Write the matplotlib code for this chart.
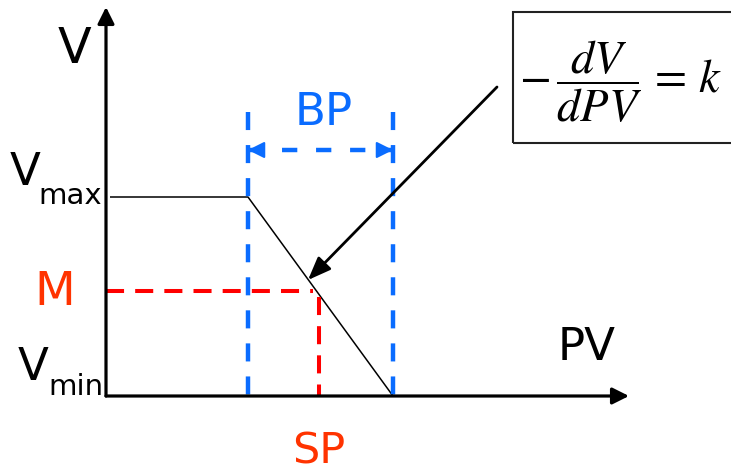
import matplotlib
matplotlib.use("Agg")
import matplotlib.pyplot as plt
from matplotlib.patches import Rectangle

plt.rcParams['font.family'] = ['DejaVu Sans']
plt.rcParams['mathtext.fontset'] = 'stix'
plt.rcParams['lines.scale_dashes'] = False

# ---- data (units: pixels from the axis origin) ----
pv_curve = [4, 142, 287]        # PV breakpoints of the controller characteristic
v_curve = [199, 199, 0]         # V at those breakpoints (Vmax ... Vmin)
v_max = 199
v_min = 0
bp_edges = [142, 287]           # proportional band limits
sp = 212.5                      # set point
m_level = 105                   # manual reset / bias level
x_axis_end = 523
y_axis_end = 389
arrow_from = (391, 309)
arrow_to = (202, 116)

BLUE = '#0A6CFF'
RED = '#FF0000'
ORANGE = '#FF3300'

fig = plt.figure(figsize=(7.31, 4.73), dpi=100)
ax = fig.add_axes([0, 0, 1, 1])
ax.set_xlim(-106, 625)
ax.set_ylim(-77, 396)
ax.axis('off')

# axes with arrow heads
ax.annotate('', xy=(0, y_axis_end), xytext=(0, v_min),
            arrowprops=dict(arrowstyle='-|>,head_length=1.0,head_width=0.5',
                            lw=2.3, color='black', shrinkA=0, shrinkB=0))
ax.annotate('', xy=(x_axis_end, v_min), xytext=(0, v_min),
            arrowprops=dict(arrowstyle='-|>,head_length=1.0,head_width=0.5',
                            lw=2.3, color='black', shrinkA=0, shrinkB=0))

# characteristic curve
ax.plot(pv_curve, v_curve, color='black', lw=1.1, solid_capstyle='butt')

# proportional band lines
for xb in bp_edges:
    ax.plot([xb, xb], [284, v_min], color=BLUE, lw=3.2,
            dashes=(13, 10.8), dash_capstyle='butt')

# BP double arrow
ax.plot([bp_edges[0], bp_edges[1]], [246, 246], color=BLUE, lw=3.2,
        dashes=(11, 13.5), dash_capstyle='butt')
for tip, tail in [(bp_edges[0], bp_edges[0] + 12), (bp_edges[1], bp_edges[1] - 12)]:
    ax.annotate('', xy=(tip, 246), xytext=(tail, 246),
                arrowprops=dict(arrowstyle='-|>,head_length=1.0,head_width=0.5',
                                lw=1.5, color=BLUE, shrinkA=0, shrinkB=0))

# M and SP dashed lines
ax.plot([0, sp - 6], [m_level, m_level], color=RED, lw=2.9,
        dashes=(13, 8), dash_capstyle='butt')
ax.plot([sp, sp], [m_level - 6, v_min], color=RED, lw=2.9,
        dashes=(13, 8), dash_capstyle='butt')

# slope arrow
ax.annotate('', xy=arrow_to, xytext=arrow_from,
            arrowprops=dict(arrowstyle='-|>,head_length=1.4,head_width=0.55',
                            lw=2.0, color='black', shrinkA=0, shrinkB=0))

# formula box (right side runs past the picture edge)
ax.add_patch(Rectangle((407, 253), 260, 131, fill=False, lw=1.5,
                       edgecolor='#222222', clip_on=True))
ax.text(515, 314, r'$-\,\dfrac{dV}{dPV}\,=\,k$', fontsize=33.5, ha='center',
        va='center', color='black')

# labels
ax.text(-48, 333, 'V', fontsize=35.5, ha='left', va='baseline')
ax.text(-96, 211, 'V', fontsize=32.5, ha='left', va='baseline')
ax.text(-68, 192, 'max', fontsize=21, ha='left', va='baseline')
ax.text(-88, 16, 'V', fontsize=32.5, ha='left', va='baseline')
ax.text(-58, 1, 'min', fontsize=21, ha='left', va='baseline')
ax.text(-72, 91, 'M', fontsize=34, ha='left', va='baseline', color=ORANGE)
ax.text(sp, -67, 'SP', fontsize=31, ha='center', va='baseline', color=ORANGE)
ax.text(218, 271, 'BP', fontsize=32.5, ha='center', va='baseline', color=BLUE)
ax.text(452, 36, 'PV', fontsize=32.5, ha='left', va='baseline')

fig.savefig('out.png', dpi=100)
